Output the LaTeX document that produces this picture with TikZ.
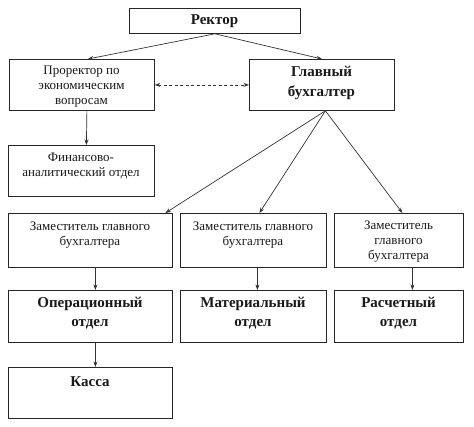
\documentclass[tikz,border=0pt]{standalone}
\usepackage{fontspec}
\setmainfont{Liberation Serif}
\usetikzlibrary{arrows.meta}
\begin{document}
\begin{tikzpicture}[x=1pt,y=-1pt,
  box/.style={draw=black!85,line width=0.8pt,inner sep=0pt,anchor=north west},
  nt/.style={align=center,font=\fontsize{13}{15}\selectfont,inner sep=0pt,text=black!90},
  bt/.style={align=center,font=\fontsize{15}{19.5}\selectfont\bfseries,inner sep=0pt,text=black!90},
  arr/.style={draw=black!80,line width=0.7pt,-{Stealth[length=5.5pt,width=4pt]}},
  darr/.style={draw=black!80,line width=0.7pt,dashed,dash pattern=on 3pt off 2.5pt,{Stealth[length=5.5pt,width=4pt]}-{Stealth[length=5.5pt,width=4pt]}}]
\useasboundingbox (0,0) rectangle (474,426);
\fill[white] (0,0) rectangle (474,426);
% boxes
\node[box,minimum width=171pt,minimum height=25pt] (rector) at (129,8) {};
\node[box,minimum width=145pt,minimum height=51pt] (pro) at (9,59) {};
\node[box,minimum width=145pt,minimum height=51pt] (gb) at (249,59) {};
\node[box,minimum width=146pt,minimum height=51pt] (fin) at (8,145) {};
\node[box,minimum width=164pt,minimum height=54pt] (z1) at (8,213) {};
\node[box,minimum width=146pt,minimum height=54pt] (z2) at (180,213) {};
\node[box,minimum width=129pt,minimum height=54pt] (z3) at (334,213) {};
\node[box,minimum width=164pt,minimum height=52pt] (op) at (8,290) {};
\node[box,minimum width=146pt,minimum height=52pt] (mat) at (180,290) {};
\node[box,minimum width=129pt,minimum height=52pt] (ras) at (334,290) {};
\node[box,minimum width=164pt,minimum height=51pt] (kassa) at (8,367) {};
% texts
\node[bt] (rector-t) at (214.5,21) {Ректор};
\node[nt] (pro-t) at (81.5,87) {Проректор по\\экономическим\\вопросам};
\node[bt] (gb-t) at (321.5,83) {Главный\\бухгалтер};
\node[nt] (fin-t) at (81,166) {Финансово-\\аналитический отдел};
\node[nt] (z1-t) at (90,235) {Заместитель главного\\бухгалтера};
\node[nt] (z2-t) at (253,235) {Заместитель главного\\бухгалтера};
\node[nt] (z3-t) at (398.5,242) {Заместитель\\главного\\бухгалтера};
\node[bt] (op-t) at (90,313) {Операционный\\отдел};
\node[bt] (mat-t) at (253,313) {Материальный\\отдел};
\node[bt] (ras-t) at (398.5,313) {Расчетный\\отдел};
\node[bt] (kassa-t) at (90,382) {Касса};
% connectors
\draw[arr] (rector.south) -- ([xshift=6pt]pro.north);
\draw[arr] (rector.south) -- (gb.north);
\draw[darr] (pro.east) -- (gb.west);
\draw[arr] ([xshift=5pt]pro.south) -- ([xshift=5pt]fin.north);
\draw[arr] ([xshift=3.5pt]gb.south) -- ([xshift=75pt]z1.north);
\draw[arr] ([xshift=3.5pt]gb.south) -- ([xshift=6pt]z2.north);
\draw[arr] ([xshift=3.5pt]gb.south) -- ([xshift=3.5pt]z3.north);
\draw[arr] ([xshift=5pt]z1.south) -- ([xshift=5pt]op.north);
\draw[arr] ([xshift=4pt]z2.south) -- ([xshift=4pt]mat.north);
\draw[arr] ([xshift=13.5pt]z3.south) -- ([xshift=13.5pt]ras.north);
\draw[arr] ([xshift=5pt]op.south) -- ([xshift=5pt]kassa.north);
\end{tikzpicture}
\end{document}
